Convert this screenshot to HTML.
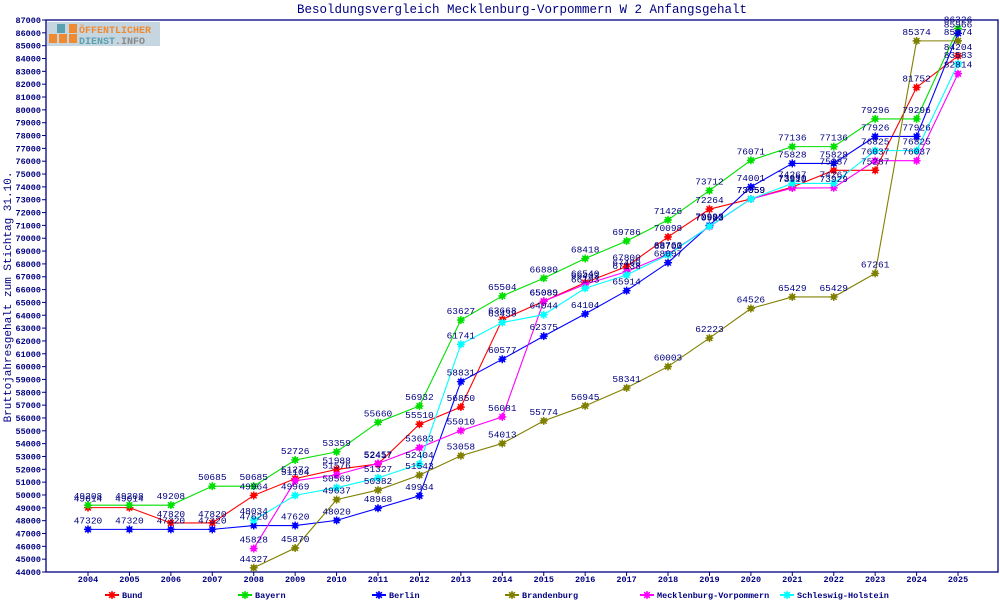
<!DOCTYPE html>
<html><head><meta charset="utf-8"><style>
body{margin:0;background:#fff;width:1000px;height:600px;overflow:hidden}
svg text{font-family:"Liberation Mono",monospace}
</style></head><body>
<svg id="s" width="1000" height="600" xmlns="http://www.w3.org/2000/svg">
<text x="522" y="13" text-anchor="middle" font-size="12.5" fill="#000080">Besoldungsvergleich Mecklenburg-Vorpommern W 2 Anfangsgehalt</text>
<text transform="translate(11,297) rotate(-90)" text-anchor="middle" font-size="11" fill="#000080">Bruttojahresgehalt zum Stichtag 31.10.</text>
<rect x="46" y="20" width="952" height="552" fill="none" stroke="#000080" stroke-width="1.3"/>
<g id="g"></g>
<g>
<rect x="47" y="22" width="113" height="24" fill="#c6d6e0"/>
<rect x="49" y="34" width="8" height="9" fill="#f08a30"/><rect x="59" y="34" width="8" height="9" fill="#f08a30"/><rect x="69" y="34" width="8" height="9" fill="#f08a30"/><rect x="69" y="24" width="8" height="9" fill="#f08a30"/><rect x="57" y="24" width="8" height="9" fill="#5aa0b0"/>
<text x="79" y="33" font-size="10" font-weight="bold" fill="#f08a30" font-family="Liberation Sans">ÖFFENTLICHER</text>
<text x="79" y="44" font-size="10" font-weight="bold" fill="#5aa0b0" font-family="Liberation Sans">DIENST<tspan fill="#888">.INFO</tspan></text>
</g>
</svg>
<script>
const g=document.getElementById('g');
const X=y=>88+(y-2004)*41.43, Y=v=>20+(87000-v)*552/43000;
let h='';
for(let v=44000;v<=87000;v+=1000){const y=Y(v);h+=`<line x1="42" x2="46" y1="${y}" y2="${y}" stroke="#000080"/><text x="41" y="${y+3}" text-anchor="end" font-size="8.5" font-weight="bold" fill="#000080">${v}</text>`;}
for(let yr=2004;yr<=2025;yr++){const x=X(yr);h+=`<line x1="${x}" x2="${x}" y1="572" y2="576" stroke="#000080"/><text x="${x}" y="582" text-anchor="middle" font-size="8.5" font-weight="bold" fill="#000080">${yr}</text>`;}
const S=[
["Bund","#ff0000",2004,[49014,49014,47820,47820,49964,51272,51988,52417,55510,56850,63668,65089,66540,67800,70098,72264,73059,73990,75287,75287,81752,84204]],
["Bayern","#00e000",2004,[49208,49208,49208,50685,50685,52726,53359,55660,56932,63627,65504,66880,68418,69786,71426,73712,76071,77136,77136,79296,79296,86326]],
["Berlin","#0000ff",2004,[47320,47320,47320,47320,47620,47620,48020,48968,49934,58831,60577,62375,64104,65914,68097,70993,74001,75828,75828,77926,77926,85966]],
["Brandenburg","#808000",2008,[44327,45870,49637,50382,51543,53058,54013,55774,56945,58341,60003,62223,64526,65429,65429,67261,85374,85374]],
["Mecklenburg-Vorpommern","#ff00ff",2008,[45828,51104,51576,52457,53683,55010,56081,65089,66403,67400,68760,70903,73059,73910,73929,76037,76037,82814]],
["Schleswig-Holstein","#00ffff",2008,[48034,49969,50569,51327,52404,61741,63438,64044,66103,67138,68703,70923,73059,74267,74267,76825,76825,83583]]];
const lx=[105,238,372,505,640,780];
function mk(x,y,c){return `<circle cx="${x}" cy="${y}" r="2.8" fill="${c}"/><path d="M${x-4} ${y}h8M${x} ${y-4}v8M${x-2.9} ${y-2.9}l5.8 5.8M${x-2.9} ${y+2.9}l5.8 -5.8" stroke="${c}" stroke-width="1.4"/>`;}
S.forEach((s,i)=>{const pts=s[3].map((v,k)=>[X(s[2]+k),Y(v),v]);
h+=`<polyline fill="none" stroke="${s[1]}" stroke-width="1.1" points="${pts.map(p=>p[0]+','+p[1]).join(' ')}"/>`;
pts.forEach(p=>{h+=mk(p[0],p[1],s[1]);});
h+=`<line x1="${lx[i]}" x2="${lx[i]+14}" y1="595" y2="595" stroke="${s[1]}" stroke-width="2"/>`+mk(lx[i]+7,595,s[1])+`<text x="${lx[i]+17}" y="598" font-size="8.5" font-weight="bold" fill="#000080">${s[0]}</text>`;});
S.forEach(s=>{s[3].forEach((v,k)=>{h+=`<text x="${X(s[2]+k)}" y="${Y(v)-6}" text-anchor="middle" font-size="9.5" fill="#000080">${v}</text>`;});});
g.innerHTML=h;
</script>
</body></html>
